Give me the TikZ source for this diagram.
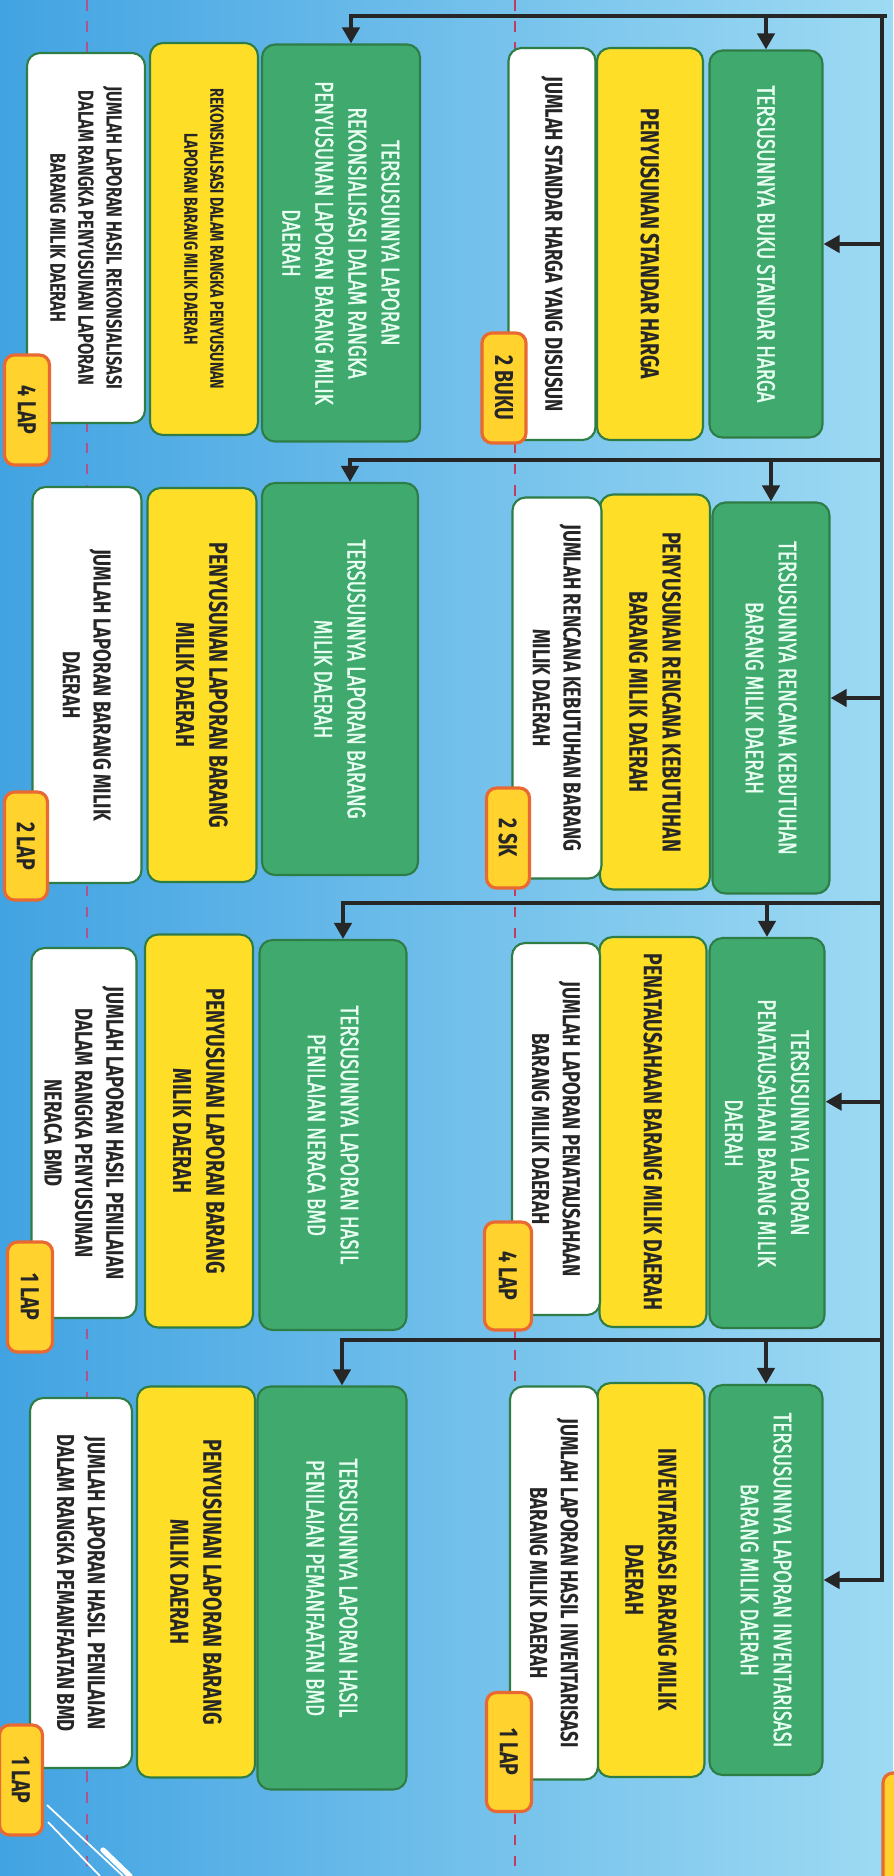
\documentclass[tikz,border=0pt]{standalone}
\usepackage{fontspec}
\setmainfont{Fira Sans}[FakeStretch=0.75]
\newfontfamily\goalfont{Fira Sans}[FakeStretch=0.74,FakeBold=1.4]
\usetikzlibrary{arrows.meta,calc}
\definecolor{bmdGreen}{RGB}{64,170,110}
\definecolor{bmdGreenLine}{RGB}{46,125,70}
\definecolor{bmdYellow}{RGB}{255,222,40}
\definecolor{bmdBadge}{RGB}{255,210,45}
\definecolor{bmdOrange}{RGB}{232,105,50}
\definecolor{bmdMint}{RGB}{232,255,242}
\definecolor{bmdSkyDark}{RGB}{66,163,226}
\definecolor{bmdSkyLight}{RGB}{158,218,243}
\definecolor{bmdLine}{RGB}{38,38,38}
\definecolor{bmdDash}{RGB}{170,85,140}

\begin{document}
\begin{tikzpicture}[x=0.1mm, y=-0.1mm]
\tikzstyle{base} = [rotate=-90, rounded corners=1.3mm, inner sep=0pt, align=center, line width=0.6pt]
\tikzstyle{goal} = [base, draw=bmdGreenLine, fill=bmdGreen, text=bmdMint, font=\goalfont\fontsize{7.2}{9.4}\selectfont]
\tikzstyle{task} = [base, draw=bmdGreenLine, fill=bmdYellow, text=black!85, font=\bfseries\fontsize{7.4}{9.4}\selectfont]
\tikzstyle{measure} = [base, draw=bmdGreenLine, fill=white, text=black!85, font=\bfseries\fontsize{7}{8.8}\selectfont]
\tikzstyle{target} = [base, rounded corners=1mm, draw=bmdOrange, line width=0.9pt, fill=bmdBadge, text=black!85, font=\bfseries\fontsize{7.4}{9}\selectfont]
\tikzstyle{link} = [draw=bmdLine, line width=1.2pt]
\tikzstyle{arr} = [link, -{Triangle[length=1.6mm,width=1.7mm]}]

\useasboundingbox (0,0) rectangle (893,1876);
\shade[left color=bmdSkyDark, right color=bmdSkyLight] (0,0) rectangle (893,1876);
\draw[bmdDash, dashed, line width=0.8pt] (87,0) -- (87,1876);
\draw[bmdDash!70!red, dashed, line width=0.8pt] (515,0) -- (515,1876);
\draw[white, line width=0.5pt] (47,1805) -- (123,1876);
\draw[white, line width=0.5pt] (48,1822) -- (100,1876);
\draw[white, line width=1.5pt, line cap=round] (103,1850) -- (130,1876);
\draw[draw=bmdOrange, fill=bmdBadge, line width=0.9pt, rounded corners=1mm] (883,1773) rectangle (910,1900);

% kolom kanan
\node[goal, minimum width=38.7mm, minimum height=11.3mm] (goalR1) at (766,244) {TERSUSUNNYA BUKU STANDAR HARGA};
\node[task, minimum width=39.2mm, minimum height=10.6mm] (taskR1) at (650,244) {PENYUSUNAN STANDAR HARGA};
\node[measure, minimum width=39.2mm, minimum height=8.7mm] (measR1) at (552,244) {JUMLAH STANDAR HARGA YANG DISUSUN};
\node[target, minimum width=11mm, minimum height=4.4mm] (tgtR1) at (504,388) {2 BUKU};

\node[goal, minimum width=39.1mm, minimum height=11.7mm] (goalR2) at (771,698) {TERSUSUNNYA RENCANA KEBUTUHAN\\BARANG MILIK DAERAH};
\node[task, minimum width=39.5mm, minimum height=11mm] (taskR2) at (655,692) {PENYUSUNAN RENCANA KEBUTUHAN\\BARANG MILIK DAERAH};
\node[measure, minimum width=38.1mm, minimum height=8.9mm] (measR2) at (557,688) {JUMLAH RENCANA KEBUTUHAN BARANG\\MILIK DAERAH};
\node[target, minimum width=10mm, minimum height=4.3mm] (tgtR2) at (508,838) {2 SK};

\node[goal, minimum width=39mm, minimum height=11.5mm] (goalR3) at (767,1133) {TERSUSUNNYA LAPORAN\\PENATAUSAHAAN BARANG MILIK\\DAERAH};
\node[task, minimum width=39mm, minimum height=10.7mm] (taskR3) at (653,1132) {PENATAUSAHAAN BARANG MILIK DAERAH};
\node[measure, minimum width=37.2mm, minimum height=8.8mm] (measR3) at (556,1129) {JUMLAH LAPORAN PENATAUSAHAAN\\BARANG MILIK DAERAH};
\node[target, minimum width=10.8mm, minimum height=4.7mm] (tgtR3) at (508,1276) {4 LAP};

\node[goal, minimum width=39mm, minimum height=11.3mm] (goalR4) at (766,1580) {TERSUSUNNYA LAPORAN INVENTARISASI\\BARANG MILIK DAERAH};
\node[task, minimum width=39.4mm, minimum height=10.7mm] (taskR4) at (651,1580) {INVENTARISASI BARANG MILIK\\DAERAH};
\node[measure, minimum width=39.3mm, minimum height=8.8mm] (measR4) at (554,1583) {JUMLAH LAPORAN HASIL INVENTARISASI\\BARANG MILIK DAERAH};
\node[target, minimum width=11.9mm, minimum height=4.5mm] (tgtR4) at (509,1752) {1 LAP};

% kolom kiri
\node[goal, minimum width=39.7mm, minimum height=15.8mm] (goalL1) at (341,243) {TERSUSUNNYA LAPORAN\\REKONSIALISASI DALAM RANGKA\\PENYUSUNAN LAPORAN BARANG MILIK\\DAERAH};
\node[task, minimum width=39.2mm, minimum height=10.8mm, font=\bfseries\fontsize{5.4}{7.4}\selectfont] (taskL1) at (204,239) {REKONSIALISASI DALAM RANGKA PENYUSUNAN\\LAPORAN BARANG MILIK DAERAH};
\node[measure, minimum width=37mm, minimum height=11.8mm, font=\bfseries\fontsize{6.2}{8}\selectfont] (measL1) at (86,238) {JUMLAH LAPORAN HASIL REKONSIALISASI\\DALAM RANGKA PENYUSUNAN LAPORAN\\BARANG MILIK DAERAH};
\node[target, minimum width=11mm, minimum height=4.5mm] (tgtL1) at (27,410) {4 LAP};

\node[goal, minimum width=39.2mm, minimum height=15.6mm] (goalL2) at (340,679) {TERSUSUNNYA LAPORAN BARANG\\MILIK DAERAH};
\node[task, minimum width=39.4mm, minimum height=10.9mm] (taskL2) at (202,685) {PENYUSUNAN LAPORAN BARANG\\MILIK DAERAH};
\node[measure, minimum width=39.6mm, minimum height=10.9mm] (measL2) at (87,685) {JUMLAH LAPORAN BARANG MILIK\\DAERAH};
\node[target, minimum width=10.8mm, minimum height=4.3mm] (tgtL2) at (26,846) {2 LAP};

\node[goal, minimum width=39mm, minimum height=14.7mm] (goalL3) at (333,1135) {TERSUSUNNYA LAPORAN HASIL\\PENILAIAN NERACA BMD};
\node[task, minimum width=39.3mm, minimum height=10.8mm] (taskL3) at (199,1131) {PENYUSUNAN LAPORAN BARANG\\MILIK DAERAH};
\node[measure, minimum width=37mm, minimum height=10.5mm] (measL3) at (84,1133) {JUMLAH LAPORAN HASIL PENILAIAN\\DALAM RANGKA PENYUSUNAN\\NERACA BMD};
\node[target, minimum width=11mm, minimum height=4.5mm] (tgtL3) at (30,1297) {1 LAP};

\node[goal, minimum width=40.3mm, minimum height=14.9mm] (goalL4) at (332,1588) {TERSUSUNNYA LAPORAN HASIL\\PENILAIAN PEMANFAATAN BMD};
\node[task, minimum width=39.1mm, minimum height=11.8mm] (taskL4) at (196,1582) {PENYUSUNAN LAPORAN BARANG\\MILIK DAERAH};
\node[measure, minimum width=37mm, minimum height=10.2mm] (measL4) at (81,1583) {JUMLAH LAPORAN HASIL PENILAIAN\\DALAM RANGKA PEMANFAATAN BMD};
\node[target, minimum width=11mm, minimum height=4.3mm] (tgtL4) at (21,1780) {1 LAP};

% jalur panah
\coordinate (bus1) at (882,16);
\coordinate (bus2) at (882,460);
\coordinate (bus3) at (882,903);
\coordinate (bus4) at (882,1340);
\draw[link] (bus1) -- ++(5,0);
\draw[arr] (bus1) |- (goalR4.north);
\foreach \k in {1,...,4} {
  \draw[arr] (bus\k) -| ([xshift=1mm]goalL\k.west);
  \draw[arr] (goalR\k.west |- bus\k) -- (goalR\k.west);
}
\foreach \k/\f in {1/0.5, 2/0.5, 3/0.42} {
  \path ($(goalR\k.north west)!\f!(goalR\k.north east)$) coordinate (side\k);
  \draw[arr] (side\k -| bus1) -- (side\k);
}
\end{tikzpicture}
\end{document}
